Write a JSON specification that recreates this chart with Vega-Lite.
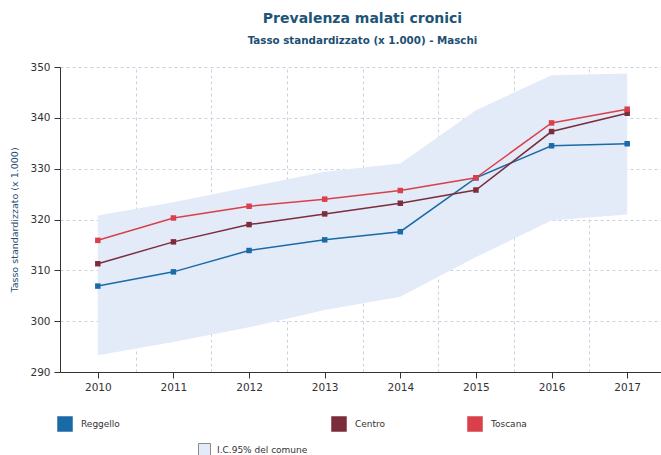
{
  "$schema": "https://vega.github.io/schema/vega-lite/v6.json",
  "width": 605,
  "height": 305,
  "autosize": {"type": "none"},
  "padding": {"left": 60, "top": 67, "right": 0, "bottom": 83},
  "background": "white",
  "title": {
    "text": "Prevalenza malati cronici",
    "subtitle": "Tasso standardizzato (x 1.000) - Maschi",
    "anchor": "middle",
    "frame": "group",
    "font": "DejaVu Sans",
    "fontSize": 14,
    "fontWeight": "bold",
    "color": "#1d5577",
    "subtitleFont": "DejaVu Sans",
    "subtitleFontSize": 10.3,
    "subtitleFontWeight": "bold",
    "subtitleColor": "#1d4f73",
    "subtitlePadding": 10,
    "offset": 16
  },
  "config": {
    "view": {"stroke": null},
    "font": "DejaVu Sans",
    "axis": {
      "domainColor": "#333333",
      "tickColor": "#333333",
      "labelColor": "#333333",
      "labelFont": "DejaVu Sans",
      "labelFontSize": 10.5,
      "gridColor": "#c9d2e2",
      "gridDash": [3, 3],
      "tickSize": 6,
      "titleFont": "DejaVu Sans"
    }
  },
  "datasets": {
    "series": [
      {"anno": 2010, "serie": "Reggello", "valore": 306.9},
      {"anno": 2011, "serie": "Reggello", "valore": 309.7},
      {"anno": 2012, "serie": "Reggello", "valore": 313.9},
      {"anno": 2013, "serie": "Reggello", "valore": 316.0},
      {"anno": 2014, "serie": "Reggello", "valore": 317.6},
      {"anno": 2015, "serie": "Reggello", "valore": 328.2},
      {"anno": 2016, "serie": "Reggello", "valore": 334.5},
      {"anno": 2017, "serie": "Reggello", "valore": 334.9},
      {"anno": 2010, "serie": "Centro", "valore": 311.3},
      {"anno": 2011, "serie": "Centro", "valore": 315.6},
      {"anno": 2012, "serie": "Centro", "valore": 319.0},
      {"anno": 2013, "serie": "Centro", "valore": 321.1},
      {"anno": 2014, "serie": "Centro", "valore": 323.2},
      {"anno": 2015, "serie": "Centro", "valore": 325.8},
      {"anno": 2016, "serie": "Centro", "valore": 337.3},
      {"anno": 2017, "serie": "Centro", "valore": 340.9},
      {"anno": 2010, "serie": "Toscana", "valore": 315.9},
      {"anno": 2011, "serie": "Toscana", "valore": 320.3},
      {"anno": 2012, "serie": "Toscana", "valore": 322.6},
      {"anno": 2013, "serie": "Toscana", "valore": 324.0},
      {"anno": 2014, "serie": "Toscana", "valore": 325.7},
      {"anno": 2015, "serie": "Toscana", "valore": 328.2},
      {"anno": 2016, "serie": "Toscana", "valore": 339.0},
      {"anno": 2017, "serie": "Toscana", "valore": 341.7}
    ],
    "banda": [
      {"anno": 2010, "inf": 293.3, "sup": 320.8, "ic": "I.C.95% del comune"},
      {"anno": 2011, "inf": 295.9, "sup": 323.4, "ic": "I.C.95% del comune"},
      {"anno": 2012, "inf": 298.8, "sup": 326.4, "ic": "I.C.95% del comune"},
      {"anno": 2013, "inf": 302.2, "sup": 329.4, "ic": "I.C.95% del comune"},
      {"anno": 2014, "inf": 304.8, "sup": 331.0, "ic": "I.C.95% del comune"},
      {"anno": 2015, "inf": 312.6, "sup": 341.5, "ic": "I.C.95% del comune"},
      {"anno": 2016, "inf": 319.8, "sup": 348.4, "ic": "I.C.95% del comune"},
      {"anno": 2017, "inf": 321.0, "sup": 348.7, "ic": "I.C.95% del comune"}
    ]
  },
  "layer": [
    {
      "data": {"name": "banda"},
      "mark": {"type": "area", "opacity": 1, "interpolate": "linear"},
      "encoding": {
        "x": {
          "field": "anno",
          "type": "quantitative",
          "scale": {"domain": [2009.5, 2017.5], "nice": false, "zero": false},
          "axis": {
            "orient": "top",
            "values": [2010.5, 2011.5, 2012.5, 2013.5, 2014.5, 2015.5, 2016.5, 2017.5],
            "grid": true,
            "labels": false,
            "ticks": false,
            "domain": false,
            "title": null
          }
        },
        "y": {
          "field": "inf",
          "type": "quantitative",
          "scale": {"domain": [290, 350], "nice": false, "zero": false},
          "axis": {
            "values": [290, 300, 310, 320, 330, 340, 350],
            "grid": true,
            "labelPadding": 4,
            "title": "Tasso standardizzato (x 1.000)",
            "titleFontSize": 9.5,
            "titleFontWeight": "normal",
            "titleColor": "#1d4f73",
            "titlePadding": 10
          }
        },
        "y2": {"field": "sup"},
        "fill": {
          "field": "ic",
          "type": "nominal",
          "scale": {"range": ["#e3ebf8"]},
          "legend": {
            "orient": "none",
            "legendX": 138,
            "legendY": 376,
            "title": null,
            "padding": 0,
            "symbolType": "square",
            "symbolSize": 144,
            "symbolStrokeColor": "#8a8a8a",
            "symbolStrokeWidth": 1,
            "labelFontSize": 9,
            "labelColor": "#333333",
            "labelOffset": 6
          }
        }
      }
    },
    {
      "data": {"name": "series"},
      "mark": {"type": "line", "strokeWidth": 1.5},
      "encoding": {
        "x": {
          "field": "anno",
          "type": "quantitative",
          "axis": {
            "values": [2010, 2011, 2012, 2013, 2014, 2015, 2016, 2017],
            "format": "d",
            "grid": false,
            "labelPadding": 4,
            "title": null
          }
        },
        "y": {"field": "valore", "type": "quantitative"},
        "color": {
          "field": "serie",
          "type": "nominal",
          "scale": {"domain": ["Reggello", "Centro", "Toscana"], "range": ["#1b6aa8", "#7b2d3b", "#d9404a"]},
          "legend": {
            "orient": "none",
            "legendX": -3,
            "legendY": 349,
            "direction": "horizontal",
            "columns": 3,
            "title": null,
            "padding": 0,
            "columnPadding": 10,
            "labelOffset": 8,
            "labelLimit": 500,
            "labelFontSize": 9,
            "labelColor": "#333333",
            "labelExpr": "datum.label == 'Reggello' ? pad(datum.label, 75) + '\u2800' : datum.label == 'Centro' ? pad(datum.label, 28) + '\u2800' : datum.label",
            "symbolType": "square",
            "symbolSize": 196,
            "encode": {
              "symbols": {
                "update": {
                  "fill": {"signal": "scale('color', datum.value)"},
                  "stroke": {"value": "transparent"},
                  "shape": {"value": "square"},
                  "size": {"value": 196}
                }
              }
            }
          }
        }
      }
    },
    {
      "data": {"name": "series"},
      "mark": {"type": "point", "shape": "square", "filled": true, "size": 30, "opacity": 1},
      "encoding": {
        "x": {"field": "anno", "type": "quantitative", "axis": null},
        "y": {"field": "valore", "type": "quantitative"},
        "color": {"field": "serie", "type": "nominal"}
      }
    }
  ],
  "resolve": {"axis": {"x": "independent"}}
}
